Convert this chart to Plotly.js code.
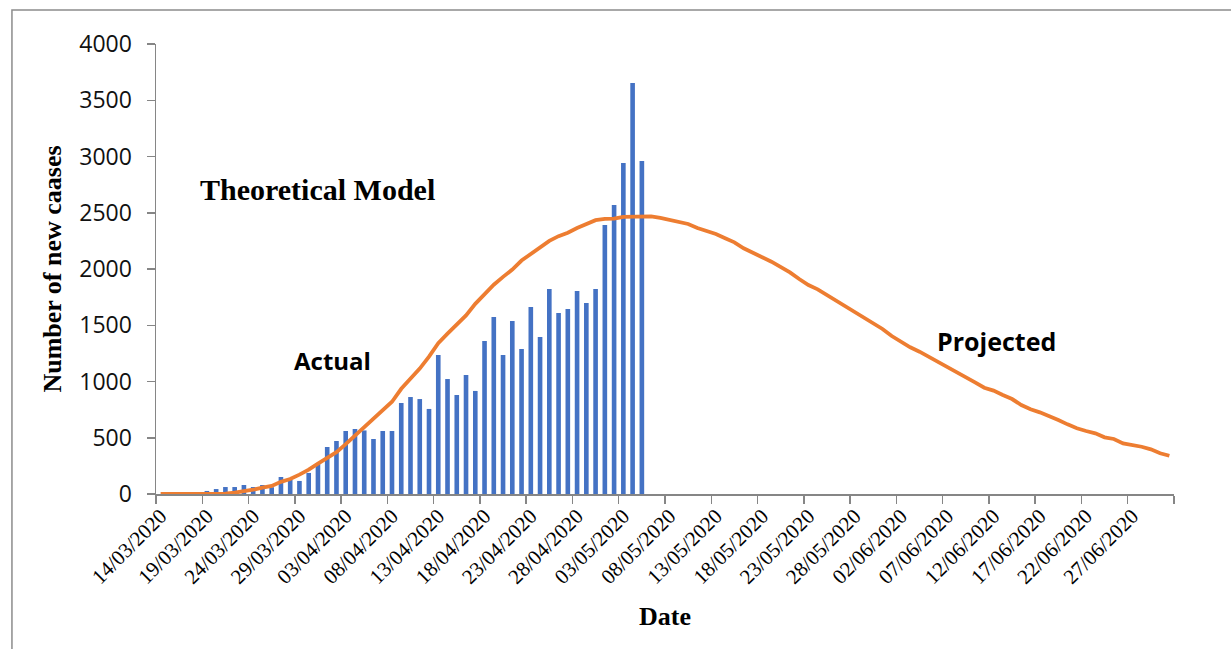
<!DOCTYPE html>
<html>
<head>
<meta charset="utf-8">
<script src="https://cdn.plot.ly/plotly-3.0.1.min.js"></script>
<style>html,body{margin:0;padding:0;background:#fff;}#chart{width:1231px;height:649px;}</style>
</head>
<body>
<div id="chart"></div>
<script>
const dates = [
"14/03/2020","15/03/2020","16/03/2020","17/03/2020","18/03/2020","19/03/2020","20/03/2020","21/03/2020","22/03/2020","23/03/2020",
"24/03/2020","25/03/2020","26/03/2020","27/03/2020","28/03/2020","29/03/2020","30/03/2020","31/03/2020","01/04/2020","02/04/2020",
"03/04/2020","04/04/2020","05/04/2020","06/04/2020","07/04/2020","08/04/2020","09/04/2020","10/04/2020","11/04/2020","12/04/2020",
"13/04/2020","14/04/2020","15/04/2020","16/04/2020","17/04/2020","18/04/2020","19/04/2020","20/04/2020","21/04/2020","22/04/2020",
"23/04/2020","24/04/2020","25/04/2020","26/04/2020","27/04/2020","28/04/2020","29/04/2020","30/04/2020","01/05/2020","02/05/2020",
"03/05/2020","04/05/2020","05/05/2020","06/05/2020","07/05/2020","08/05/2020","09/05/2020","10/05/2020","11/05/2020","12/05/2020",
"13/05/2020","14/05/2020","15/05/2020","16/05/2020","17/05/2020","18/05/2020","19/05/2020","20/05/2020","21/05/2020","22/05/2020",
"23/05/2020","24/05/2020","25/05/2020","26/05/2020","27/05/2020","28/05/2020","29/05/2020","30/05/2020","31/05/2020","01/06/2020",
"02/06/2020","03/06/2020","04/06/2020","05/06/2020","06/06/2020","07/06/2020","08/06/2020","09/06/2020","10/06/2020","11/06/2020",
"12/06/2020","13/06/2020","14/06/2020","15/06/2020","16/06/2020","17/06/2020","18/06/2020","19/06/2020","20/06/2020","21/06/2020",
"22/06/2020","23/06/2020","24/06/2020","25/06/2020","26/06/2020","27/06/2020","28/06/2020","29/06/2020","30/06/2020","01/07/2020"
];

// Actual new cases (bars), 14/03 .. 05/05
const actualCases = [
null,null,null,null,null,27,44,62,62,80,
62,80,60,151,125,116,187,275,418,471,
560,578,565,489,560,560,809,862,844,756,
1236,1022,880,1058,916,1360,1573,1236,1538,1289,
1662,1396,1822,1609,1644,1804,1698,1822,2391,2569,
2942,3653,2960
];

// Theoretical model / projection (line), 14/03 .. 01/07
const modelCases = [
0,0,0,0,0,0,0,3,12,21,
38,57,72,108,133,172,216,270,321,372,
443,517,590,672,748,820,935,1020,1115,1221,
1340,1425,1505,1588,1690,1775,1860,1930,1995,2075,
2132,2192,2250,2292,2322,2364,2400,2434,2446,2447,
2464,2466,2466,2468,2455,2435,2418,2400,2364,2341,
2311,2273,2237,2184,2148,2104,2065,2021,1970,1911,
1858,1819,1769,1724,1665,1615,1570,1517,1467,1404,
1354,1304,1265,1221,1170,1126,1081,1037,993,945,
919,880,844,791,753,726,696,658,619,584,
560,539,504,489,450,436,420,397,362,340
];

const yTicks = [0,500,1000,1500,2000,2500,3000,3500,4000];

const axisGray = '#868686';
const serif = '"Liberation Serif", "Times New Roman", serif';
const sans = '"Open Sans", Calibri, sans-serif';

const traces = [
  {
    type: 'bar',
    name: 'Actual',
    x: dates.slice(0, actualCases.length),
    y: actualCases,
    marker: {color: '#4472C4'},
    hoverinfo: 'x+y'
  },
  {
    type: 'scatter',
    mode: 'lines',
    name: 'Theoretical Model',
    x: dates,
    y: modelCases,
    line: {color: '#ED7D31', width: 3.8},
    hoverinfo: 'x+y'
  }
];

const layout = {
  width: 1231,
  height: 649,
  paper_bgcolor: '#ffffff',
  plot_bgcolor: '#ffffff',
  showlegend: false,
  bargap: 0.5,
  margin: {l: 156, r: 57, t: 44, b: 155},
  xaxis: {
    type: 'category',
    categoryorder: 'array',
    categoryarray: dates,
    range: [-0.5, dates.length - 0.5],
    tickmode: 'linear',
    tick0: 0,
    dtick: 5,
    tickangle: -45,
    tickson: 'boundaries',
    ticks: 'outside',
    ticklen: 8,
    tickwidth: 1.5,
    tickcolor: axisGray,
    showline: true,
    linecolor: axisGray,
    linewidth: 1.5,
    showgrid: false,
    zeroline: false,
    tickfont: {family: serif, size: 21, color: '#000'},
    title: {text: '<b>Date</b>', font: {family: serif, size: 26, color: '#000'}, standoff: 19}
  },
  yaxis: {
    range: [0, 4000],
    tickmode: 'array',
    tickvals: yTicks,
    ticktext: yTicks.map(String),
    ticks: 'outside',
    ticklen: 8,
    tickwidth: 1.5,
    tickcolor: axisGray,
    showline: true,
    linecolor: axisGray,
    linewidth: 1.5,
    showgrid: false,
    zeroline: false,
    ticklabelstandoff: 10,
    tickfont: {family: sans, size: 23, color: '#111'},
    title: {text: '<b>Number of new caases</b>', font: {family: serif, size: 26, color: '#000'}, standoff: 10}
  },
  annotations: [
    {xref: 'paper', yref: 'paper', x: 0.159, y: 0.6756, xanchor: 'center', yanchor: 'middle', showarrow: false,
     text: '<b>Theoretical Model</b>', font: {family: serif, size: 30, color: '#000'}},
    {xref: 'paper', yref: 'paper', x: 0.1729, y: 0.2956, xanchor: 'center', yanchor: 'middle', showarrow: false,
     text: '<b>Actual</b>', font: {family: sans, size: 24, color: '#000'}},
    {xref: 'paper', yref: 'paper', x: 0.826, y: 0.34, xanchor: 'center', yanchor: 'middle', showarrow: false,
     text: '<b>Projected</b>', font: {family: sans, size: 25, color: '#000'}}
  ],
  shapes: [
    {type: 'rect', xref: 'paper', yref: 'paper', x0: -0.1415, x1: 1.08, y0: -0.40, y1: 1.0756,
     line: {color: '#8c8c8c', width: 1.5}, fillcolor: 'rgba(0,0,0,0)', layer: 'below'}
  ]
};

Plotly.newPlot('chart', traces, layout, {displayModeBar: false, staticPlot: true});
</script>
</body>
</html>
